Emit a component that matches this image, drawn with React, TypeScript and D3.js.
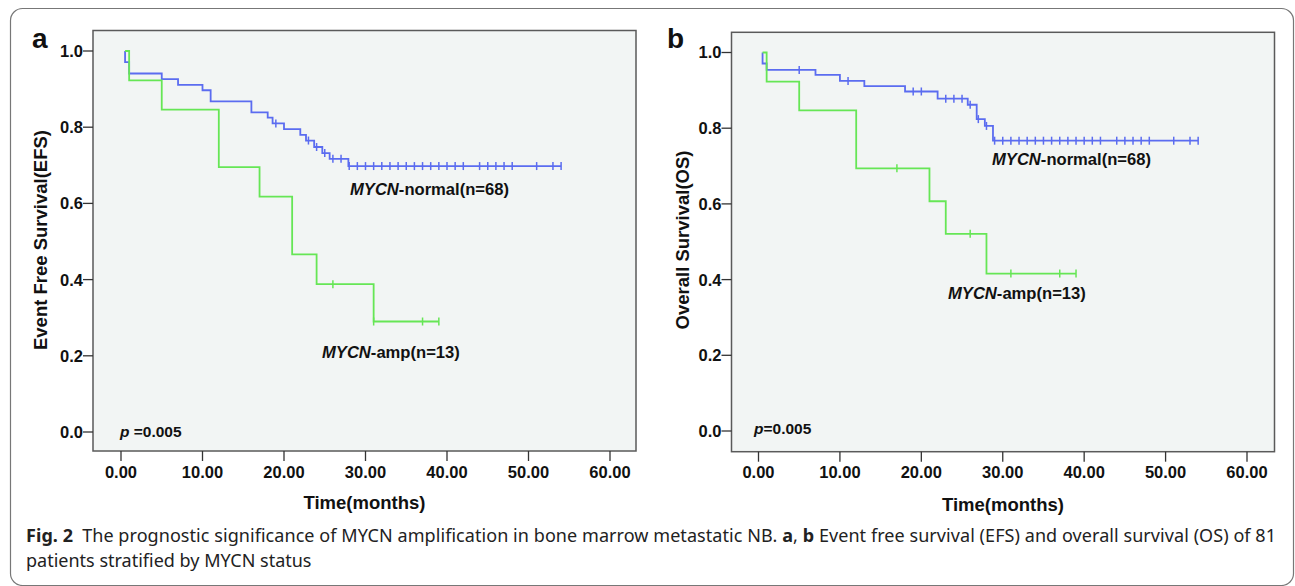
import React from 'react';
import * as d3 from 'd3';

// axis ticks
const xTicks = [0, 10, 20, 30, 40, 50, 60];
const yTicks = [0, 0.2, 0.4, 0.6, 0.8, 1.0];

// panel a - event free survival
const efsNormalTimes = [0.5, 0.5, 1, 5, 7, 10, 11, 16, 18, 18.6, 20, 22, 22.7, 23.7, 24.7, 25.6, 27.9];
const efsNormalSurv = [1.0, 0.971, 0.941, 0.926, 0.911, 0.897, 0.868, 0.839, 0.825, 0.810, 0.795, 0.780, 0.765, 0.748, 0.732, 0.717, 0.698];
const efsNormalCensor = [19, 23, 24, 25, 26, 27, 28, 29, 30, 31, 32, 33, 34, 35, 36, 37, 38, 39, 40, 41, 42, 44, 45, 46, 47, 48, 51, 53, 54];

const efsAmpTimes = [0.5, 1, 5, 12, 17, 21, 24, 31];
const efsAmpSurv = [1.0, 0.923, 0.846, 0.695, 0.618, 0.466, 0.388, 0.290];
const efsAmpCensor = [26, 31, 37, 39];

// panel b - overall survival
const osNormalTimes = [0.5, 0.5, 1, 7, 10, 13, 18, 22, 25.7, 26.8, 27.8, 28.8];
const osNormalSurv = [1.0, 0.971, 0.954, 0.941, 0.925, 0.911, 0.897, 0.878, 0.862, 0.824, 0.806, 0.767];
const osNormalCensor = [5, 11, 19, 20, 23, 24, 25, 26, 27, 28, 29, 30, 31, 32, 33, 34, 35, 36, 37, 38, 39, 40, 41, 42, 44, 45, 46, 47, 48, 51, 53, 54];

const osAmpTimes = [0.5, 1, 5, 12, 21, 23, 28];
const osAmpSurv = [1.0, 0.923, 0.847, 0.694, 0.607, 0.521, 0.416];
const osAmpCensor = [17, 26, 31, 37, 39];

const BLUE = '#5b6cf0';
const GREEN = '#66e655';
const AXIS_FONT = '"Liberation Sans", Arial, sans-serif';

function survAt(times, surv, t) {
    let s = surv[0];
    times.forEach((ti, i) => { if (ti <= t) s = surv[i]; });
    return s;
}

function KMCurve({ x, y, times, surv, censor, color }) {
    const end = d3.max(censor);
    const pts = times.map((t, i) => [t, surv[i]]);
    pts.push([end, surv[surv.length - 1]]);
    const line = d3.line().x(d => x(d[0])).y(d => y(d[1])).curve(d3.curveStepAfter);
    return (
        <g>
            <path d={line(pts)} fill="none" stroke={color} strokeWidth={1.8} />
            {censor.map((c, i) => {
                const cx = x(c);
                const cy = y(survAt(times, surv, c));
                return <line key={i} x1={cx} x2={cx} y1={cy - 4} y2={cy + 4} stroke={color} strokeWidth={1.5} />;
            })}
        </g>
    );
}

function Panel(props) {
    const { box, xRange, yRange, letter, letterX, yTitle, yTitleX, xTitleY, pText, pX, pY, normal, amp, normalLabel, ampLabel } = props;
    const x = d3.scaleLinear().domain([0, 60]).range(xRange);
    const y = d3.scaleLinear().domain([0, 1]).range(yRange);
    const midX = (box.x0 + box.x1) / 2;

    return (
        <g fontFamily={AXIS_FONT} fontWeight="bold">
            <text x={letterX} y={48} fontSize={28} fill="#111">{letter}</text>
            <rect x={box.x0} y={box.y0} width={box.x1 - box.x0} height={box.y1 - box.y0}
                fill="#f2f5f4" stroke="#5a5a5a" strokeWidth={1.5} />

            {yTicks.map(t => (
                <g key={t}>
                    <line x1={box.x0 - 10} x2={box.x0} y1={y(t)} y2={y(t)} stroke="#333" strokeWidth={1.3} />
                    <text x={box.x0 - 10} y={y(t)} dy="0.36em" textAnchor="end" fontSize={16.5} fill="#111">{d3.format('.1f')(t)}</text>
                </g>
            ))}
            {xTicks.map(t => (
                <g key={t}>
                    <line x1={x(t)} x2={x(t)} y1={box.y1} y2={box.y1 + 10} stroke="#333" strokeWidth={1.3} />
                    <text x={x(t)} y={478} textAnchor="middle" fontSize={16.5} fill="#111">{d3.format('.2f')(t)}</text>
                </g>
            ))}

            <text x={midX} y={xTitleY} textAnchor="middle" fontSize={18.5} fill="#111">Time(months)</text>
            <text transform={`translate(${yTitleX}, 240) rotate(-90)`} textAnchor="middle" fontSize={18.5} fill="#111">{yTitle}</text>

            <KMCurve x={x} y={y} {...normal} color={BLUE} />
            <KMCurve x={x} y={y} {...amp} color={GREEN} />

            <text x={normalLabel[0]} y={normalLabel[1]} fontSize={16.6} fill="#111">
                <tspan fontStyle="italic">MYCN</tspan>-normal(n=68)
            </text>
            <text x={ampLabel[0]} y={ampLabel[1]} fontSize={16.6} fill="#111">
                <tspan fontStyle="italic">MYCN</tspan>-amp(n=13)
            </text>
            <text x={pX} y={pY} fontSize={15.5} fill="#111">
                <tspan fontStyle="italic">p</tspan>{pText}
            </text>
        </g>
    );
}

export default function App() {
    return (
        <svg width={1295} height={586} style={{ position: 'absolute', left: 0, top: 0 }}>
            <rect x={0} y={0} width={1295} height={586} fill="#fff" />
            <rect x={10.5} y={8.5} width={1283} height={577} rx={12} fill="none" stroke="#777" strokeWidth={1.2} />

            <Panel
                box={{ x0: 93, x1: 636, y0: 30.5, y1: 451 }}
                xRange={[121, 610]} yRange={[432, 51]}
                letter="a" letterX={32}
                yTitle="Event Free Survival(EFS)" yTitleX={47} xTitleY={509}
                pText=" =0.005" pX={120} pY={437}
                normal={{ times: efsNormalTimes, surv: efsNormalSurv, censor: efsNormalCensor }}
                amp={{ times: efsAmpTimes, surv: efsAmpSurv, censor: efsAmpCensor }}
                normalLabel={[350, 195]} ampLabel={[322, 358]}
            />
            <Panel
                box={{ x0: 731.5, x1: 1274.5, y0: 32.3, y1: 451.7 }}
                xRange={[758.5, 1247]} yRange={[431, 52.5]}
                letter="b" letterX={667}
                yTitle="Overall Survival(OS)" yTitleX={689} xTitleY={511}
                pText="=0.005" pX={754} pY={434}
                normal={{ times: osNormalTimes, surv: osNormalSurv, censor: osNormalCensor }}
                amp={{ times: osAmpTimes, surv: osAmpSurv, censor: osAmpCensor }}
                normalLabel={[992, 165]} ampLabel={[948, 298.5]}
            />

            <g fontFamily='"Noto Sans", "Open Sans", sans-serif' fontSize={18} fill="#222">
                <text x={26} y={542} textLength={1250} lengthAdjust="spacing">
                    <tspan fontWeight="bold">Fig. 2</tspan>
                    <tspan>{'\u2002The prognostic significance of MYCN amplification in bone marrow metastatic NB. '}</tspan>
                    <tspan fontWeight="bold">a</tspan>
                    <tspan>{', '}</tspan>
                    <tspan fontWeight="bold">b</tspan>
                    <tspan>{' Event free survival (EFS) and overall survival (OS) of 81'}</tspan>
                </text>
                <text x={26} y={567}>patients stratified by MYCN status</text>
            </g>
        </svg>
    );
}
